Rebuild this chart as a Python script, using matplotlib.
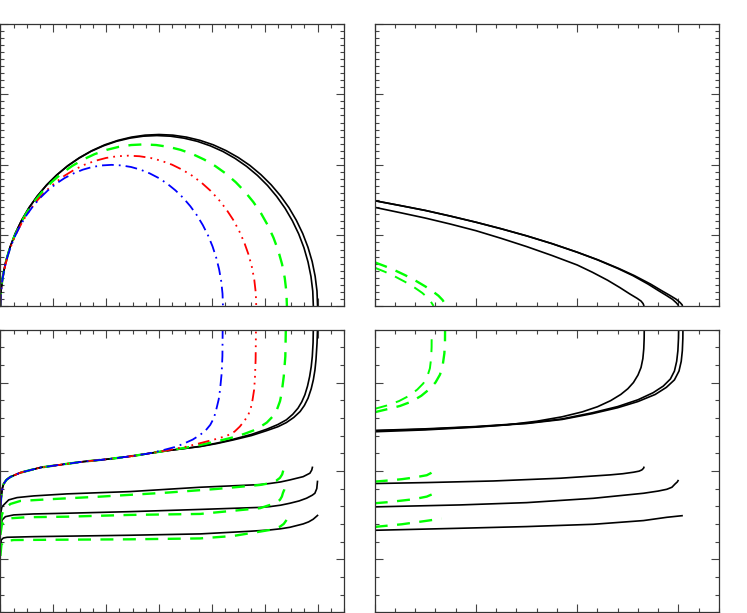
import matplotlib
matplotlib.use("Agg")
import matplotlib.pyplot as plt
from matplotlib.ticker import MultipleLocator

# ---------------- Top-left panel: closed arcs ----------------
tl_black1_x = [0, .011, .046, .102, .181, .281, .402, .542, .702, .879, 1.072, 1.279, 1.5, 1.732, 1.974, 2.224, 2.479, 2.738,
               3.0, 3.262, 3.521, 3.776, 4.026, 4.268, 4.5, 4.721, 4.928, 5.121, 5.298, 5.458, 5.598, 5.719, 5.819, 5.898, 5.954, 5.989, 6.0]
tl_black1_y = [0, .212, .422, .629, .831, 1.027, 1.215, 1.394, 1.562, 1.718, 1.861, 1.991, 2.104, 2.202, 2.284, 2.347, 2.393, 2.421,
               2.43, 2.421, 2.393, 2.347, 2.284, 2.202, 2.104, 1.991, 1.861, 1.718, 1.562, 1.394, 1.215, 1.027, .831, .629, .422, .212, 0]
tl_black2_x = [0, .011, .045, .101, .179, .277, .397, .535, .693, .867, 1.057, 1.262, 1.48, 1.709, 1.948, 2.194, 2.446, 2.702,
               2.96, 3.218, 3.474, 3.726, 3.972, 4.211, 4.44, 4.658, 4.863, 5.053, 5.227, 5.385, 5.523, 5.643, 5.742, 5.819, 5.875, 5.909, 5.92]
tl_black2_y = [0, .211, .419, .625, .826, 1.021, 1.208, 1.385, 1.552, 1.708, 1.850, 1.978, 2.091, 2.189, 2.269, 2.333, 2.378, 2.406,
               2.415, 2.406, 2.378, 2.333, 2.269, 2.189, 2.091, 1.978, 1.850, 1.708, 1.552, 1.385, 1.208, 1.021, .826, .625, .419, .211, 0]
tl_green_x = [0, .010, .041, .092, .163, .254, .363, .490, .634, .794, .968, 1.156, 1.355, 1.565, 1.783, 2.009, 2.240, 2.474,
              2.71, 2.946, 3.181, 3.411, 3.637, 3.855, 4.065, 4.265, 4.452, 4.626, 4.786, 4.930, 5.057, 5.166, 5.257, 5.328, 5.379, 5.410, 5.42]
tl_green_y = [0, .200, .398, .593, .783, .968, 1.145, 1.314, 1.472, 1.619, 1.754, 1.876, 1.983, 2.075, 2.152, 2.212, 2.255, 2.281,
              2.29, 2.281, 2.255, 2.212, 2.152, 2.075, 1.983, 1.876, 1.754, 1.619, 1.472, 1.314, 1.145, .968, .783, .593, .398, .200, 0]
tl_red_x = [0, .009, .037, .083, .146, .227, .324, .438, .566, .709, .864, 1.032, 1.21, 1.397, 1.592, 1.794, 2.0, 2.209,
            2.42, 2.631, 2.840, 3.046, 3.248, 3.443, 3.63, 3.808, 3.976, 4.131, 4.274, 4.403, 4.516, 4.613, 4.694, 4.758, 4.803, 4.831, 4.84]
tl_red_y = [0, .186, .370, .551, .729, .900, 1.065, 1.222, 1.369, 1.506, 1.632, 1.745, 1.845, 1.930, 2.002, 2.057, 2.098, 2.122,
            2.13, 2.122, 2.098, 2.057, 2.002, 1.930, 1.845, 1.745, 1.632, 1.506, 1.369, 1.222, 1.065, .900, .729, .551, .370, .186, 0]
tl_blue_x = [0, .008, .032, .072, .127, .197, .282, .381, .493, .617, .752, .898, 1.053, 1.215, 1.385, 1.560, 1.740, 1.921,
             2.105, 2.289, 2.470, 2.650, 2.825, 2.995, 3.158, 3.312, 3.458, 3.593, 3.717, 3.829, 3.928, 4.013, 4.083, 4.138, 4.178, 4.202, 4.21]
tl_blue_y = [0, .174, .347, .518, .684, .845, 1.0, 1.147, 1.286, 1.414, 1.532, 1.638, 1.732, 1.813, 1.879, 1.932, 1.970, 1.992,
             2.0, 1.992, 1.970, 1.932, 1.879, 1.813, 1.732, 1.638, 1.532, 1.414, 1.286, 1.147, 1.0, .845, .684, .518, .347, .174, 0]

# ---------------- Top-right panel ----------------
tr_black1_x = [0, .25, .5, .75, 1.0, 1.25, 1.5, 1.75, 2.0, 2.2, 2.4, 2.55, 2.7, 2.8, 2.88, 2.94, 2.975, 2.995, 3.0]
tr_black1_y = [1.492, 1.424, 1.354, 1.273, 1.187, 1.094, .994, .884, .762, .654, .532, .43, .31, .22, .15, .095, .05, .018, 0]
tr_black2_x = [0, .25, .5, .75, 1.0, 1.25, 1.5, 1.75, 2.0, 2.205, 2.41, 2.565, 2.725, 2.83, 2.915, 2.978, 3.015, 3.035, 3.04]
tr_black2_y = [1.492, 1.424, 1.354, 1.273, 1.187, 1.094, .994, .884, .762, .654, .532, .43, .31, .22, .15, .095, .05, .018, 0]
tr_black3_x = [0, .25, .5, .75, 1.0, 1.25, 1.5, 1.75, 2.0, 2.15, 2.3, 2.42, 2.52, 2.59, 2.63, 2.65, 2.66]
tr_black3_y = [1.398, 1.323, 1.246, 1.160, 1.067, .958, .842, .716, .581, .478, .365, .262, .17, .11, .07, .035, 0]
tr_green1_x = [0, .1, .2, .3, .4, .5, .58, .63, .67, .69, .70]
tr_green1_y = [.619, .565, .505, .437, .362, .277, .20, .145, .085, .04, 0]
tr_green2_x = [0, .1, .2, .3, .4, .47, .52, .555, .575, .58]
tr_green2_y = [.543, .485, .418, .342, .255, .185, .12, .06, .015, 0]

# ---------------- Bottom-left panel ----------------
bl_shared_x = [0, .019, .038, .062, .113, .189, .378, .755, 1.26, 1.57, 2.08, 2.52, 2.83]
bl_shared_y = [.592, .728, .807, .853, .898, .932, .980, 1.038, 1.080, 1.105, 1.136, 1.170, 1.20]
bl_blue_x = bl_shared_x + [3.085, 3.3, 3.46, 3.64, 3.78, 3.9, 3.97, 4.04, 4.09, 4.13, 4.155, 4.186, 4.2, 4.205]
bl_blue_y = bl_shared_y + [1.236, 1.27, 1.306, 1.355, 1.408, 1.47, 1.521, 1.6, 1.710, 1.81, 1.917, 2.106, 2.3, 2.62]
bl_red_x = bl_shared_x + [3.148, 3.5, 3.78, 4.05, 4.28, 4.43, 4.53, 4.62, 4.69, 4.74, 4.77, 4.80, 4.815, 4.828, 4.835]
bl_red_y = bl_shared_y + [1.232, 1.272, 1.314, 1.356, 1.396, 1.445, 1.502, 1.57, 1.634, 1.72, 1.804, 1.92, 2.05, 2.257, 2.62]
bl_green_x = bl_shared_x + [3.148, 3.5, 3.78, 4.1, 4.41, 4.62, 4.78, 4.92, 5.04, 5.15, 5.23, 5.29, 5.32, 5.36, 5.39, 5.40]
bl_green_y = bl_shared_y + [1.230, 1.262, 1.294, 1.335, 1.381, 1.42, 1.456, 1.50, 1.547, 1.615, 1.691, 1.79, 1.880, 2.068, 2.294, 2.62]
bl_black1_x = bl_shared_x + [3.148, 3.5, 3.78, 4.1, 4.41, 4.75, 5.04, 5.25, 5.41, 5.55, 5.67, 5.75, 5.82, 5.88, 5.92, 5.95, 5.97, 5.99, 6.0]
bl_black1_y = bl_shared_y + [1.228, 1.255, 1.275, 1.31, 1.351, 1.40, 1.456, 1.50, 1.547, 1.605, 1.672, 1.74, 1.823, 1.93, 2.031, 2.14, 2.257, 2.446, 2.62]
bl_black2_x = bl_shared_x + [3.148, 3.5, 3.78, 4.1, 4.41, 4.75, 5.04, 5.25, 5.41, 5.53, 5.63, 5.70, 5.76, 5.81, 5.85, 5.88, 5.90, 5.915, 5.92]
bl_black2_y = bl_shared_y + [1.228, 1.255, 1.278, 1.315, 1.359, 1.413, 1.472, 1.525, 1.578, 1.64, 1.710, 1.78, 1.861, 1.96, 2.068, 2.18, 2.294, 2.45, 2.62]

bl_low_black1_x = [0, .028, .062, .157, .315, .629, 1.26, 1.889, 2.455, 3.777, 4.91, 5.10, 5.30, 5.477, 5.728, 5.855, 5.89, 5.906]
bl_low_black1_y = [.50, .592, .615, .672, .698, .717, .740, .754, .766, .815, .845, .858, .875, .898, .935, .974, 1.01, 1.049]
bl_low_black2_x = [0, .032, .094, .251, .629, 1.26, 2.455, 3.777, 4.91, 5.10, 5.30, 5.477, 5.65, 5.792, 5.90, 5.949, 5.985, 6.0]
bl_low_black2_y = [.332, .445, .482, .502, .513, .521, .539, .564, .587, .596, .612, .634, .66, .691, .725, .747, .80, .890]
bl_low_black3_x = [0, .015, .057, .127, .629, 2.455, 3.777, 4.72, 5.10, 5.30, 5.477, 5.728, 5.83, 5.917, 6.011]
bl_low_black3_y = [.083, .219, .241, .249, .256, .272, .287, .317, .332, .345, .362, .400, .423, .453, .502]
bl_low_green1_x = [0, .028, .062, .189, .378, .944, 1.889, 3.148, 4.093, 4.91, 5.10, 5.22, 5.288, 5.33, 5.354, 5.38, 5.40]
bl_low_green1_y = [.389, .502, .558, .626, .660, .680, .709, .754, .796, .841, .861, .89, .921, .96, 1.011, 1.06, 1.102]
bl_low_green2_x = [0, .028, .062, .189, .504, 1.26, 2.455, 3.777, 4.91, 5.10, 5.22, 5.288, 5.325, 5.345, 5.372, 5.392]
bl_low_green2_y = [.275, .389, .426, .464, .476, .482, .502, .513, .578, .615, .645, .672, .71, .751, .79, .830]
bl_low_green3_x = [0, .019, .062, .251, 1.26, 2.455, 3.777, 4.406, 4.91, 5.10, 5.288, 5.36, 5.414]
bl_low_green3_y = [.037, .162, .202, .218, .222, .226, .236, .264, .313, .332, .369, .40, .445]

# ---------------- Bottom-right panel ----------------
br_black1_x = [0, .5, 1.0, 1.3, 1.6, 1.85, 2.05, 2.2, 2.33, 2.43, 2.5, 2.555, 2.6, 2.63, 2.648, 2.657, 2.661, 2.662]
br_black1_y = [1.443, 1.464, 1.495, 1.520, 1.562, 1.612, 1.668, 1.726, 1.795, 1.865, 1.930, 2.0, 2.085, 2.17, 2.27, 2.38, 2.5, 2.62]
br_black2_x = [0, .5, 1.0, 1.5, 1.85, 2.15, 2.4, 2.6, 2.75, 2.85, 2.92, 2.96, 2.982, 2.994, 3.0, 3.002]
br_black2_y = [1.458, 1.476, 1.502, 1.540, 1.588, 1.658, 1.728, 1.805, 1.885, 1.96, 2.04, 2.13, 2.24, 2.36, 2.5, 2.62]
br_black3_x = [0, .5, 1.0, 1.5, 1.85, 2.15, 2.4, 2.6, 2.77, 2.88, 2.96, 3.005, 3.027, 3.038, 3.043, 3.044]
br_black3_y = [1.454, 1.471, 1.499, 1.536, 1.582, 1.648, 1.715, 1.785, 1.865, 1.945, 2.03, 2.13, 2.24, 2.36, 2.5, 2.62]
br_green1_x = [0, .12, .24, .34, .42, .48, .52, .545, .557, .562, .563]
br_green1_y = [1.702, 1.74, 1.79, 1.85, 1.92, 1.99, 2.07, 2.16, 2.27, 2.4, 2.62]
br_green2_x = [0, .112, .25, .365, .46, .54, .60, .645, .672, .688, .694, .695]
br_green2_y = [1.664, 1.695, 1.735, 1.785, 1.85, 1.925, 2.0, 2.09, 2.2, 2.33, 2.46, 2.62]

br_low_black1_x = [0, .514, 1.172, 1.831, 2.325, 2.45, 2.556, 2.61, 2.638, 2.655, 2.661]
br_low_black1_y = [.857, .868, .886, .917, .955, .968, .985, .997, 1.011, 1.03, 1.049]
br_low_black2_x = [0, .844, 1.501, 2.16, 2.655, 2.80, 2.885, 2.935, 2.967, 2.988, 3.0]
br_low_black2_y = [.593, .615, .641, .690, .747, .772, .792, .815, .853, .875, .898]
br_low_black3_x = [0, .844, 1.501, 2.16, 2.655, 2.885, 3.043]
br_low_black3_y = [.328, .351, .370, .396, .438, .475, .494]
br_low_green1_x = [0, .119, .267, .382, .514, .553, .568, .573]
br_low_green1_y = [.879, .890, .906, .924, .951, .974, .995, 1.019]
br_low_green2_x = [0, .119, .267, .382, .514, .629]
br_low_green2_y = [.634, .645, .664, .679, .709, .766]
br_low_green3_x = [0, .267, .53, .66]
br_low_green3_y = [.366, .396, .438, .460]

# ---------------- styles ----------------
GREEN = "#00ff00"
RED = "#ff0000"
BLUE = "#0000ff"
BLACK_KW = dict(color="black", lw=1.2, solid_capstyle="butt")
GREEN_KW = dict(color=GREEN, lw=1.7, linestyle=(0, (5.5, 4.0)), dash_capstyle="butt")
GREEN_THIN_KW = dict(color=GREEN, lw=1.4, linestyle=(0, (6.6, 4.8)), dash_capstyle="butt")
RED_KW = dict(color=RED, lw=1.3, linestyle=(0, (6.5, 2.8, 1.0, 2.8, 1.0, 2.8, 1.0, 2.8)), dash_capstyle="butt")
BLUE_KW = dict(color=BLUE, lw=1.3, linestyle=(0, (6.5, 2.8, 1.0, 2.8)), dash_capstyle="butt")

W, H = 747, 613
fig = plt.figure(figsize=(W / 100, H / 100), dpi=100)


def make_axes(left_px, right_px, top_px, bottom_px):
    return fig.add_axes([left_px / W, (H - bottom_px) / H,
                         (right_px - left_px) / W, (bottom_px - top_px) / H])


def style(ax, xlim, ylim, xmaj, xmin, ymaj, ymin):
    ax.set_xlim(*xlim)
    ax.set_ylim(*ylim)
    ax.xaxis.set_major_locator(MultipleLocator(xmaj))
    ax.xaxis.set_minor_locator(MultipleLocator(xmin))
    ax.yaxis.set_major_locator(MultipleLocator(ymaj))
    ax.yaxis.set_minor_locator(MultipleLocator(ymin))
    ax.tick_params(which="both", direction="in", top=True, right=True,
                   labelbottom=False, labelleft=False, color="#444444", width=0.8)
    ax.tick_params(which="major", length=5.8)
    ax.tick_params(which="minor", length=2.9)
    for sp in ax.spines.values():
        sp.set_color("#333333")
        sp.set_linewidth(0.9)


ax_tl = make_axes(0.4, 344, 23.7, 306)
ax_tr = make_axes(374.7, 719, 23.7, 306)
ax_bl = make_axes(0.4, 344, 329.5, 612.3)
ax_br = make_axes(374.7, 719, 329.5, 612.3)

style(ax_tl, (0, 6.5), (0, 4), 1, 0.25, 1, 0.1)
style(ax_tr, (0, 3.4), (0, 4), 1, 0.2, 1, 0.1)
style(ax_bl, (0, 6.5), (-0.6, 2.6), 1, 0.25, 1, 0.2)
style(ax_br, (0, 3.4), (-0.6, 2.6), 1, 0.2, 1, 0.2)

# top-left
ax_tl.plot(tl_black1_x, tl_black1_y, **BLACK_KW)
ax_tl.plot(tl_black2_x, tl_black2_y, **BLACK_KW)
ax_tl.plot(tl_green_x, tl_green_y, **GREEN_KW)
ax_tl.plot(tl_red_x, tl_red_y, **RED_KW)
ax_tl.plot(tl_blue_x, tl_blue_y, **BLUE_KW)

# top-right
ax_tr.plot(tr_black1_x, tr_black1_y, **BLACK_KW)
ax_tr.plot(tr_black2_x, tr_black2_y, **BLACK_KW)
ax_tr.plot(tr_black3_x, tr_black3_y, **BLACK_KW)
ax_tr.plot(tr_green1_x, tr_green1_y, **GREEN_KW)
ax_tr.plot(tr_green2_x, tr_green2_y, **GREEN_THIN_KW)

# bottom-left
for xs, ys in [(bl_black1_x, bl_black1_y), (bl_black2_x, bl_black2_y),
               (bl_low_black1_x, bl_low_black1_y), (bl_low_black2_x, bl_low_black2_y),
               (bl_low_black3_x, bl_low_black3_y)]:
    ax_bl.plot(xs, ys, **BLACK_KW)
for xs, ys in [(bl_green_x, bl_green_y), (bl_low_green1_x, bl_low_green1_y),
               (bl_low_green2_x, bl_low_green2_y), (bl_low_green3_x, bl_low_green3_y)]:
    ax_bl.plot(xs, ys, **GREEN_KW)
ax_bl.plot(bl_red_x, bl_red_y, **RED_KW)
ax_bl.plot(bl_blue_x, bl_blue_y, **BLUE_KW)

# bottom-right
for xs, ys in [(br_black1_x, br_black1_y), (br_black2_x, br_black2_y), (br_black3_x, br_black3_y),
               (br_low_black1_x, br_low_black1_y), (br_low_black2_x, br_low_black2_y),
               (br_low_black3_x, br_low_black3_y)]:
    ax_br.plot(xs, ys, **BLACK_KW)
ax_br.plot(br_green1_x, br_green1_y, **GREEN_THIN_KW)
ax_br.plot(br_green2_x, br_green2_y, **GREEN_KW)
for xs, ys in [(br_low_green1_x, br_low_green1_y), (br_low_green2_x, br_low_green2_y),
               (br_low_green3_x, br_low_green3_y)]:
    ax_br.plot(xs, ys, **GREEN_KW)

fig.savefig("out.png", dpi=100)
